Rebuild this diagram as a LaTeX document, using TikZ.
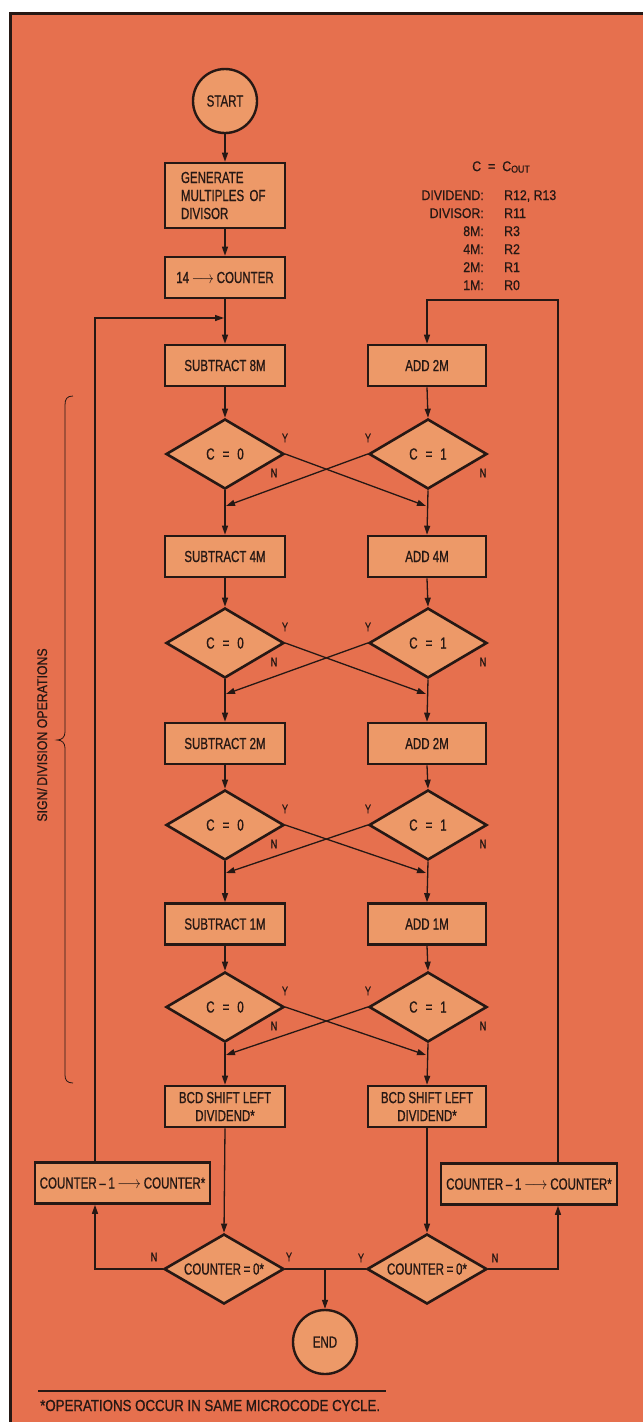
\documentclass[tikz,border=0pt]{standalone}
\usepackage{graphicx}
\usepackage{fontspec}
\setmainfont{Liberation Sans}[FakeStretch=0.72,FakeBold=0.8]
\newfontfamily\legfont{Liberation Sans}[FakeStretch=0.88,FakeBold=0.6]
\newfontfamily\footfont{Liberation Sans}[FakeStretch=0.83,FakeBold=0.8]
\usetikzlibrary{arrows.meta,shapes.geometric}
\definecolor{bgor}{RGB}{230,112,78}
\definecolor{boxor}{RGB}{237,153,104}
\definecolor{ink}{RGB}{38,24,20}
\newcommand\longarr{\scalebox{0.85}[1]{$\longrightarrow$}}
\newcommand\shortarr{\scalebox{0.8}[1]{$\longrightarrow$}}
\begin{document}
\begin{tikzpicture}[x=1pt,y=-1pt,
  every node/.style={font=\fontsize{16}{18}\selectfont, text=ink},
  proc/.style={draw=ink, fill=boxor, line width=2.6pt, minimum width=120pt, minimum height=41pt, inner sep=0pt, align=center},
  dec/.style={draw=ink, fill=boxor, line width=2.6pt, shape=diamond, minimum width=118pt, minimum height=70pt, inner sep=0pt},
  term/.style={draw=ink, fill=boxor, line width=2.4pt, circle, minimum size=64pt, inner sep=0pt},
  conn/.style={draw=ink, line width=1.3pt},
  arr/.style={conn, -{Triangle[length=9pt,width=6pt]}},
  yn/.style={font=\fontsize{12.5}{13}\selectfont, inner sep=0pt},
  leg/.style={font=\legfont\fontsize{14}{16}\selectfont, inner sep=0pt},
]
\useasboundingbox (0,0) rectangle (643,1422);
\fill[white] (0,0) rectangle (643,1422);
\fill[bgor] (10,13) rectangle (643,1422);
\draw[ink,line width=3pt] (10,1422) -- (10,13.5) -- (643,13.5);

% top part
\node[term] (start) at (225,101) {START};
\node[proc, minimum height=65pt, text width=88pt, align=left] (gen) at (225,195.5) {GENERATE\\MULTIPLES OF\\DIVISOR};
\node[proc] (c14) at (225,277.5) {14\,\shortarr\,COUNTER};

% legend
\node[leg] (cc) at (501,167) {C\enspace=\enspace C{\fontsize{10}{10}\selectfont\raisebox{-1.5pt}{OUT}}};
\node[leg, anchor=base east] (k1) at (484,200) {DIVIDEND:};
\node[leg, anchor=base east] (k2) at (484,218) {DIVISOR:};
\node[leg, anchor=base east] (k3) at (484,236) {8M:};
\node[leg, anchor=base east] (k4) at (484,254) {4M:};
\node[leg, anchor=base east] (k5) at (484,272) {2M:};
\node[leg, anchor=base east] (k6) at (484,290) {1M:};
\node[leg, anchor=base west] (v1) at (504,200) {R12, R13};
\node[leg, anchor=base west] (v2) at (504,218) {R11};
\node[leg, anchor=base west] (v3) at (504,236) {R3};
\node[leg, anchor=base west] (v4) at (504,254) {R2};
\node[leg, anchor=base west] (v5) at (504,272) {R1};
\node[leg, anchor=base west] (v6) at (504,290) {R0};

% rows
\node[proc] (L1) at (225,365.5) {SUBTRACT 8M};
\node[proc, minimum width=118pt] (R1) at (427,365.5) {ADD 2M};
\node[dec] (DL1) at (225,454) {\makebox[0pt]{C\enspace=\enspace0}};
\node[dec] (DR1) at (428,454) {\makebox[0pt]{C\enspace=\enspace1}};

\node[proc] (L2) at (225,556.5) {SUBTRACT 4M};
\node[proc, minimum width=118pt] (R2) at (427,556.5) {ADD 4M};
\node[dec] (DL2) at (225,643) {\makebox[0pt]{C\enspace=\enspace0}};
\node[dec] (DR2) at (428,643) {\makebox[0pt]{C\enspace=\enspace1}};

\node[proc] (L3) at (225,743.5) {SUBTRACT 2M};
\node[proc, minimum width=118pt] (R3) at (427,743.5) {ADD 2M};
\node[dec] (DL3) at (225,825) {\makebox[0pt]{C\enspace=\enspace0}};
\node[dec] (DR3) at (428,825) {\makebox[0pt]{C\enspace=\enspace1}};

\node[proc] (L4) at (225,924) {SUBTRACT 1M};
\node[proc, minimum width=118pt] (R4) at (427,924) {ADD 1M};
\node[dec] (DL4) at (225,1007) {\makebox[0pt]{C\enspace=\enspace0}};
\node[dec] (DR4) at (428,1007) {\makebox[0pt]{C\enspace=\enspace1}};

\node[proc] (BL) at (225,1106.5) {BCD SHIFT LEFT\\DIVIDEND*};
\node[proc, minimum width=118pt] (BR) at (427,1106.5) {BCD SHIFT LEFT\\DIVIDEND*};

\node[proc, minimum width=175pt] (lcnt) at (122.5,1183) {COUNTER\,\textendash\,1\,\longarr\,COUNTER*};
\node[proc, minimum width=176pt] (rcnt) at (529,1184) {COUNTER\,\textendash\,1\,\longarr\,COUNTER*};

\node[dec, minimum width=120pt] (CL) at (224,1269) {\makebox[0pt]{COUNTER\,=\,0*}};
\node[dec, minimum width=120pt] (CR) at (427,1269) {\makebox[0pt]{COUNTER\,=\,0*}};

\node[term] (end) at (325,1342) {END};

% Y/N labels
\foreach \d/\k in {454/1,643/2,825/3,1007/4}{
  \node[yn] (yl\k) at (285,\d-16) {Y};
  \node[yn] (nl\k) at (274,\d+19) {N};
  \node[yn] (yr\k) at (368,\d-16) {Y};
  \node[yn] (nr\k) at (483,\d+19) {N};
}
\node[yn] (cnl) at (154,1257) {N};
\node[yn] (cyl) at (289,1257) {Y};
\node[yn] (cyr) at (361,1258) {Y};
\node[yn] (cnr) at (495,1258) {N};

% coordinates
\coordinate (jL) at (225,318);
\coordinate (kL) at (95,318);
\coordinate (jR) at (558,300);
\coordinate (kR) at (427,300);

% connectors
\draw[arr] (start.south) -- (gen.north);
\draw[arr] (gen.south) -- (c14.north);
\draw[arr] (c14.south) -- (L1.north);
\draw[arr, shorten >=1pt] (kL |- lcnt.north) -- (kL) -- (jL);
\draw[arr] (jR |- rcnt.north) -- (jR) -- (kR) -- (R1.north);

\draw[arr] (L1.south) -- (DL1.north);
\draw[arr] (R1.south) -- (DR1.north);
\draw[arr] (DL1.south) -- (L2.north);
\draw[arr] (DR1.south) -- (R2.north);
\draw[arr] (DL1.east) -- (426,506);
\draw[arr] (DR1.west) -- (226,506);

\draw[arr] (L2.south) -- (DL2.north);
\draw[arr] (R2.south) -- (DR2.north);
\draw[arr] (DL2.south) -- (L3.north);
\draw[arr] (DR2.south) -- (R3.north);
\draw[arr] (DL2.east) -- (426,694);
\draw[arr] (DR2.west) -- (226,694);

\draw[arr] (L3.south) -- (DL3.north);
\draw[arr] (R3.south) -- (DR3.north);
\draw[arr] (DL3.south) -- (L4.north);
\draw[arr] (DR3.south) -- (R4.north);
\draw[arr] (DL3.east) -- (426,873);
\draw[arr] (DR3.west) -- (226,873);

\draw[arr] (L4.south) -- (DL4.north);
\draw[arr] (R4.south) -- (DR4.north);
\draw[arr] (DL4.south) -- (BL.north);
\draw[arr] (DR4.south) -- (BR.north);
\draw[arr] (DL4.east) -- (426,1055);
\draw[arr] (DR4.west) -- (226,1055);

\draw[arr] (BL.south) -- (CL.north);
\draw[arr] (BR.south) -- (CR.north);
\draw[arr] (CL.west) -- (kL |- CL.west) -- (kL |- lcnt.south);
\draw[arr] (CR.east) -- (jR |- CR.east) -- (jR |- rcnt.south);
\draw[conn] (CL.east) -- (CR.west);
\draw[arr] (end.north |- CL.east) -- (end.north);

% brace and side label
\draw[ink, line width=0.8pt] (73,396) .. controls (67,396) and (65,399) .. (65,405) -- (65,732) .. controls (65,737) and (62,740) .. (57,740) .. controls (62,740) and (65,743) .. (65,748) -- (65,1075) .. controls (65,1080) and (67,1083) .. (73,1083);
\node[rotate=90, font=\legfont\fontsize{14}{16}\selectfont, inner sep=0pt] (sgn) at (42,735) {SIGN/\,DIVISION OPERATIONS};

% footnote
\coordinate (f1) at (38,1391);
\coordinate (f2) at (386,1391);
\draw[ink, line width=1.3pt] (f1) -- (f2);
\node[font=\footfont\fontsize{16}{18}\selectfont, anchor=base west, inner sep=0pt] (fn) at (40,1411) {*OPERATIONS OCCUR IN SAME MICROCODE CYCLE.};
\end{tikzpicture}
\end{document}
